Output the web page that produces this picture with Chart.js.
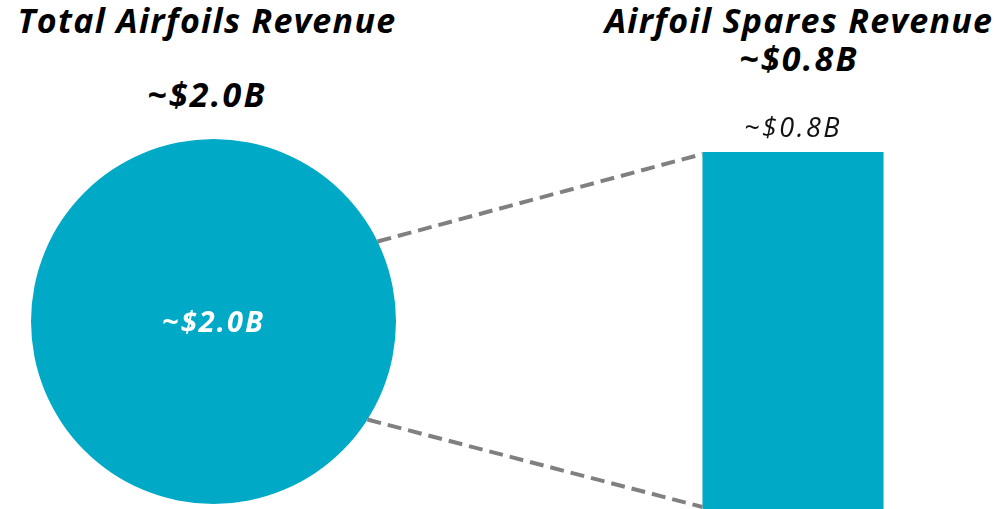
<!DOCTYPE html>
<html>
<head>
<meta charset="utf-8">
<script src="https://cdn.jsdelivr.net/npm/chart.js@4/dist/chart.umd.min.js"></script>
<style>
  html, body { margin: 0; padding: 0; background: #fff; }
  #wrap { position: relative; width: 999px; height: 509px; overflow: hidden; font-family: "Open Sans", "Noto Sans", sans-serif; }
  .ttl { position: absolute; font-weight: 700; font-style: italic; color: #000; text-align: center; white-space: nowrap; line-height: 1; }
  .t1 { font-size: 34px; letter-spacing: 1.3px; }
  .t2 { font-size: 34px; letter-spacing: 2.2px; }
  #pieBox { position: absolute; left: 31px; top: 139px; width: 365px; height: 365px; }
  #barBox { position: absolute; left: 655px; top: 100px; width: 276px; height: 409px; }
  #lines { position: absolute; left: 0; top: 0; pointer-events: none; }
</style>
</head>
<body>
<div id="wrap">
  <div class="ttl t1" style="left:0; width:414px; top:3px;">Total Airfoils Revenue</div>
  <div class="ttl t2" style="left:0; width:414px; top:77px;">~$2.0B</div>
  <div class="ttl t1" style="left:590px; width:418px; top:3px;">Airfoil Spares Revenue</div>
  <div class="ttl t2" style="left:590px; width:418px; top:41px;">~$0.8B</div>
  <div id="pieBox"><canvas id="pieChart"></canvas></div>
  <div id="barBox"><canvas id="barChart"></canvas></div>
  <canvas id="lines" width="999" height="509"></canvas>
</div>
<script>
// values ($B)
const totalLabels = ["Total Airfoils"];
const totalValues = [2.0];
const totalText = ["~$2.0B"];

const sparesLabels = ["Airfoil Spares"];
const sparesValues = [0.8];
const sparesText = ["~$0.8B"];

const teal = "#00AAC6";
const charts = {};

// draws value text on the slice / above the bar
const valueLabels = {
  id: "valueLabels",
  afterDatasetsDraw(chart, args, opts) {
    const ctx = chart.ctx;
    const meta = chart.getDatasetMeta(0);
    ctx.save();
    ctx.textAlign = "center";
    ctx.textBaseline = "alphabetic";
    ctx.letterSpacing = opts.spacing;
    meta.data.forEach((el, i) => {
      ctx.fillStyle = opts.color;
      ctx.font = opts.font;
      if (chart.config.type === "pie") {
        ctx.fillText(opts.texts[i], el.x, el.y + 10);
      } else {
        ctx.fillText(opts.texts[i], el.x, el.y - 15);
      }
    });
    ctx.restore();
  }
};

charts.pie = new Chart(document.getElementById("pieChart"), {
  type: "pie",
  data: {
    labels: totalLabels,
    datasets: [{ data: totalValues, backgroundColor: teal, borderWidth: 0 }]
  },
  options: {
    responsive: true,
    maintainAspectRatio: false,
    animation: false,
    layout: { padding: 0 },
    plugins: {
      legend: { display: false },
      tooltip: { enabled: false },
      valueLabels: { texts: totalText, color: "#fff", font: "italic 700 29px 'Open Sans'", spacing: "2px" }
    }
  },
  plugins: [valueLabels]
});

charts.bar = new Chart(document.getElementById("barChart"), {
  type: "bar",
  data: {
    labels: sparesLabels,
    datasets: [{
      data: sparesValues,
      backgroundColor: teal,
      borderWidth: 0,
      categoryPercentage: 1,
      barPercentage: 0.656
    }]
  },
  options: {
    responsive: true,
    maintainAspectRatio: false,
    animation: false,
    layout: { padding: { top: 52, left: 0, right: 0, bottom: 0 } },
    plugins: {
      legend: { display: false },
      tooltip: { enabled: false },
      valueLabels: { texts: sparesText, color: "#111", font: "italic 400 27px 'Open Sans'", spacing: "2.5px" }
    },
    scales: {
      x: {
        display: true,
        grid: { display: false, drawTicks: false },
        border: { display: true, color: "#eeeeee", width: 1 },
        ticks: { display: false }
      },
      y: { display: false, min: 0, max: 0.8 }
    }
  },
  plugins: [valueLabels]
});

// dashed connector lines from circle edge to bar corners
function drawConnectors() {
  const c = document.getElementById("lines");
  const ctx = c.getContext("2d");
  ctx.clearRect(0, 0, c.width, c.height);
  const arc = charts.pie.getDatasetMeta(0).data[0];
  const bar = charts.bar.getDatasetMeta(0).data[0];
  const pieBox = document.getElementById("pieBox");
  const barBox = document.getElementById("barBox");
  const cx = pieBox.offsetLeft + arc.x;
  const cy = pieBox.offsetTop + arc.y;
  const r = arc.outerRadius;
  const bx = barBox.offsetLeft + bar.x - bar.width / 2;
  const top = barBox.offsetTop + bar.y;
  const bottom = barBox.offsetTop + bar.base;
  const a1 = -26 * Math.PI / 180;
  const a2 = 32.5 * Math.PI / 180;
  ctx.save();
  ctx.strokeStyle = "#808080";
  ctx.lineWidth = 4;
  ctx.setLineDash([14, 7]);
  ctx.beginPath();
  ctx.moveTo(cx + r * Math.cos(a1), cy + r * Math.sin(a1));
  ctx.lineTo(bx, top + 2);
  ctx.stroke();
  ctx.beginPath();
  ctx.moveTo(cx + r * Math.cos(a2), cy + r * Math.sin(a2));
  ctx.lineTo(bx, bottom - 2);
  ctx.stroke();
  ctx.restore();
}
drawConnectors();
</script>
</body>
</html>
